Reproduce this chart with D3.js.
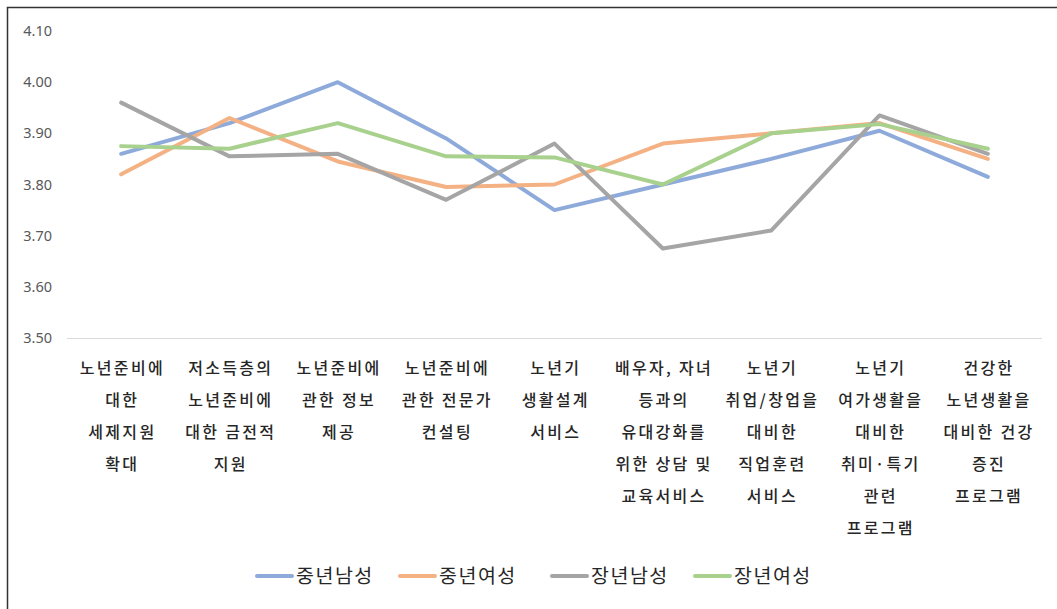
<!DOCTYPE html>
<html>
<head>
<meta charset="utf-8">
<script src="https://cdn.jsdelivr.net/npm/d3@7"></script>
<style>
  body { margin: 0; background: #fff; }
  svg { display: block; }
</style>
</head>
<body>
<div id="chart"></div>
<script>
// 항목 (줄바꿈 포함)
const categories = [
  ['노년준비에', '대한', '세제지원', '확대'],
  ['저소득층의', '노년준비에', '대한 금전적', '지원'],
  ['노년준비에', '관한 정보', '제공'],
  ['노년준비에', '관한 전문가', '컨설팅'],
  ['노년기', '생활설계', '서비스'],
  ['배우자, 자녀', '등과의', '유대강화를', '위한 상담 및', '교육서비스'],
  ['노년기', '취업/창업을', '대비한', '직업훈련', '서비스'],
  ['노년기', '여가생활을', '대비한', '취미·특기', '관련', '프로그램'],
  ['건강한', '노년생활을', '대비한 건강', '증진', '프로그램']
];

const seriesNames = ['중년남성', '중년여성', '장년남성', '장년여성'];
const midMale   = [3.86, 3.92, 4.00, 3.89, 3.75, 3.80, 3.85, 3.905, 3.815];
const midFemale = [3.82, 3.93, 3.845, 3.795, 3.80, 3.88, 3.90, 3.92, 3.85];
const oldMale   = [3.96, 3.855, 3.86, 3.77, 3.88, 3.675, 3.71, 3.935, 3.86];
const oldFemale = [3.875, 3.87, 3.92, 3.855, 3.853, 3.80, 3.90, 3.918, 3.87];
const yTicks = [3.5, 3.6, 3.7, 3.8, 3.9, 4.0, 4.1];

const colors = ['#8eaadb', '#f4b183', '#a5a5a5', '#a9d18e'];
const series = [midMale, midFemale, oldMale, oldFemale];

const W = 1057, H = 609;
const plot = { left: 67, right: 1042, top: 31, bottom: 338 };

const svg = d3.select('#chart').append('svg')
  .attr('width', W)
  .attr('height', H);

// 테두리
svg.append('rect')
  .attr('x', 7.5).attr('y', 7.5)
  .attr('width', W + 10).attr('height', H + 10)
  .attr('fill', 'none')
  .attr('stroke', '#333')
  .attr('stroke-width', 1.5);

const x = d3.scaleBand()
  .domain(d3.range(categories.length))
  .range([plot.left, plot.right]);

const y = d3.scaleLinear()
  .domain([3.5, 4.1])
  .range([plot.bottom, plot.top]);

// y축 라벨
const yAxis = svg.append('g')
  .attr('transform', `translate(52,0)`)
  .call(d3.axisLeft(y).tickValues(yTicks).tickFormat(d3.format('.2f')).tickSize(0).tickPadding(0));
yAxis.select('.domain').remove();
yAxis.selectAll('text')
  .attr('fill', '#595959')
  .style('font-family', '"Noto Sans", "Open Sans", sans-serif')
  .style('font-size', '14.5px');

// 기준선
svg.append('line')
  .attr('x1', plot.left).attr('x2', plot.right)
  .attr('y1', y(3.5) + 0.5).attr('y2', y(3.5) + 0.5)
  .attr('stroke', '#d9d9d9')
  .attr('stroke-width', 1);

// x축 라벨
const xAxis = svg.append('g')
  .attr('transform', `translate(0,${plot.bottom})`)
  .call(d3.axisBottom(x).tickSize(0).tickFormat(''));
xAxis.select('.domain').remove();
xAxis.selectAll('.tick').each(function(i) {
  const t = d3.select(this).append('text')
    .attr('fill', '#262626')
    .attr('text-anchor', 'middle')
    .style('font-family', '"Noto Sans CJK KR", sans-serif')
    .style('font-size', '16px')
    .style('font-weight', 500)
    .style('letter-spacing', '2.3px');
  categories[i].forEach((line, k) => {
    t.append('tspan')
      .attr('x', 1.2)
      .attr('y', 36 + k * 32)
      .text(line);
  });
});

// 선
const line = d3.line()
  .x((d, i) => x(i) + x.bandwidth() / 2)
  .y(d => y(d));

series.forEach((s, i) => {
  svg.append('path')
    .datum(s)
    .attr('d', line)
    .attr('fill', 'none')
    .attr('stroke', colors[i])
    .attr('stroke-width', 4)
    .attr('stroke-linejoin', 'round')
    .attr('stroke-linecap', 'round');
});

// 범례
const legendX = [255, 398, 550, 693];
const legend = svg.append('g');
seriesNames.forEach((name, i) => {
  const g = legend.append('g').attr('transform', `translate(${legendX[i]},576)`);
  g.append('line')
    .attr('x1', 2).attr('x2', 37)
    .attr('stroke', colors[i])
    .attr('stroke-width', 4)
    .attr('stroke-linecap', 'round');
  g.append('text')
    .attr('x', 41)
    .attr('dy', '0.35em')
    .attr('fill', '#262626')
    .style('font-family', '"Noto Sans CJK KR", sans-serif')
    .style('font-size', '19.5px')
    .style('letter-spacing', '1.5px')
    .text(name);
});
</script>
</body>
</html>
